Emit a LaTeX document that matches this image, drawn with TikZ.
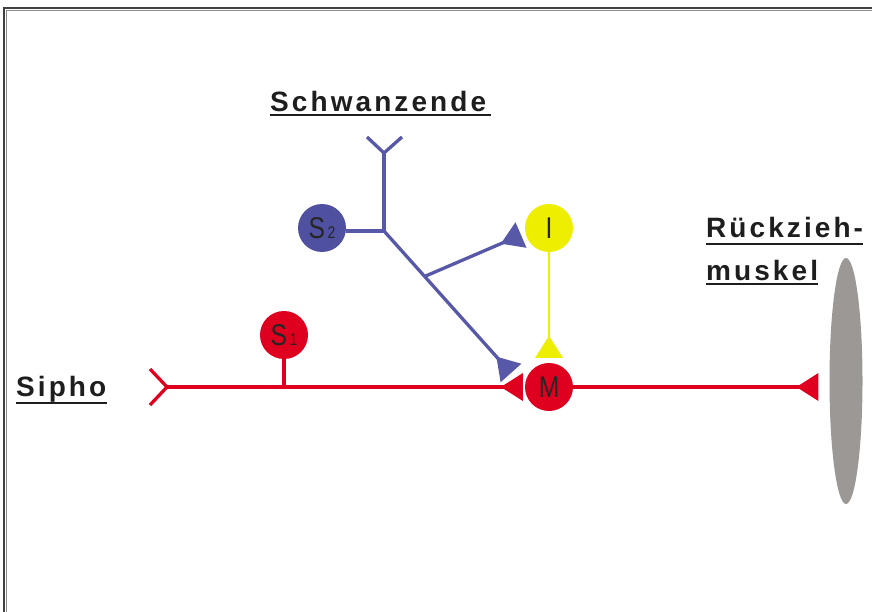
\documentclass[tikz,border=0pt]{standalone}
\usepackage{fontspec}
\setmainfont{Liberation Sans}
\newfontfamily\labfont[LetterSpace=11]{Liberation Sans}
\newfontfamily\circfont[FakeStretch=0.82]{Liberation Sans}
\usetikzlibrary{arrows.meta,shapes.geometric}
\definecolor{redS}{RGB}{222,0,30}
\definecolor{blueS}{RGB}{88,88,168}
\definecolor{blueC}{RGB}{80,80,160}
\definecolor{yelS}{RGB}{238,238,0}
\definecolor{muscle}{RGB}{155,152,150}
\definecolor{txt}{RGB}{30,30,30}
\begin{document}
\begin{tikzpicture}[x=1pt,y=-1pt,
  neuron/.style={circle, minimum size=48pt, inner sep=0pt, draw=none,
    font=\circfont\fontsize{30}{30}\selectfont, text=black!85},
  lab/.style={anchor=base west, inner sep=0pt, text=txt,
    font=\labfont\bfseries\fontsize{28}{28}\selectfont},
  ul/.style={draw=txt, line width=2pt},
  rline/.style={draw=redS, line width=3.3pt},
  bline/.style={draw=blueS, line width=3.3pt},
  yline/.style={draw=yelS, line width=2.8pt},
  syn/.style={-{Triangle[reversed,length=22pt,width=27pt]}},
  frame/.style={line width=1.5pt}]
\useasboundingbox (0,0) rectangle (872,612);
% frame
\draw[frame, draw=black!75] (4,612) -- (4,8) -- (872,8);
\draw[frame, draw=black!45] (6.5,612) -- (6.5,10.5) -- (872,10.5);

% labels
\node[lab] (sch) at (270,112) {Schwanzende};
\draw[ul] (270,115.5) -- (491,115.5);
\node[lab] (sip) at (16,396) {Sipho};
\draw[ul] (16,403) -- (107,403);
\node[lab] (rz) at (706,238) {Rückzieh-};
\node[lab] (mk) at (706,280) {muskel};
\draw[ul] (706,244) -- (863,244);
\draw[ul] (706,284) -- (818,284);

% neurons
\node[neuron, fill=redS] (s1) at (284,335) {S{\fontsize{17}{17}\selectfont\,1}};
\node[neuron, fill=blueC] (s2) at (322,228) {S{\fontsize{17}{17}\selectfont\,2}};
\node[neuron, fill=yelS] (i) at (549,228) {I};
\node[neuron, fill=redS] (m) at (549,387) {M};
\node[ellipse, fill=muscle, minimum width=33pt, minimum height=246pt, inner sep=0pt] (mus) at (846,381) {};

% coordinates
\coordinate (sf) at (167,387);
\coordinate (sfa) at (150,369);
\coordinate (sfb) at (150,405);
\coordinate (s1j) at (284,387);
\coordinate (tf) at (384,153);
\coordinate (tfa) at (367,137);
\coordinate (tfb) at (402,137);
\coordinate (s2j) at (384,231);
\coordinate (bm) at (511,373);
\coordinate (bi) at (521,235);

% red pathway
\draw[rline] (sfa) -- (sf) -- (sfb);
\draw[rline, syn, fill=redS, shorten >=2pt] (sf) -- (m.west);
\draw[rline] (s1) -- (s1j);
\draw[rline, syn, fill=redS, shorten >=11pt] (m) -- (m -| mus.west);

% blue pathway
\draw[bline] (tfa) -- (tf) -- (tfb);
\draw[bline] (tf) -- (s2j);
\draw[bline] (s2j -| s2.east) -- (s2j);
\draw[bline, syn, fill=blueS] (s2j) -- coordinate[pos=0.32] (br) (bm);
\draw[bline, syn, fill=blueS] (br) -- (bi);

% yellow
\draw[yline, syn, fill=yelS, shorten >=5pt] (i) -- (m);
\end{tikzpicture}
\end{document}
